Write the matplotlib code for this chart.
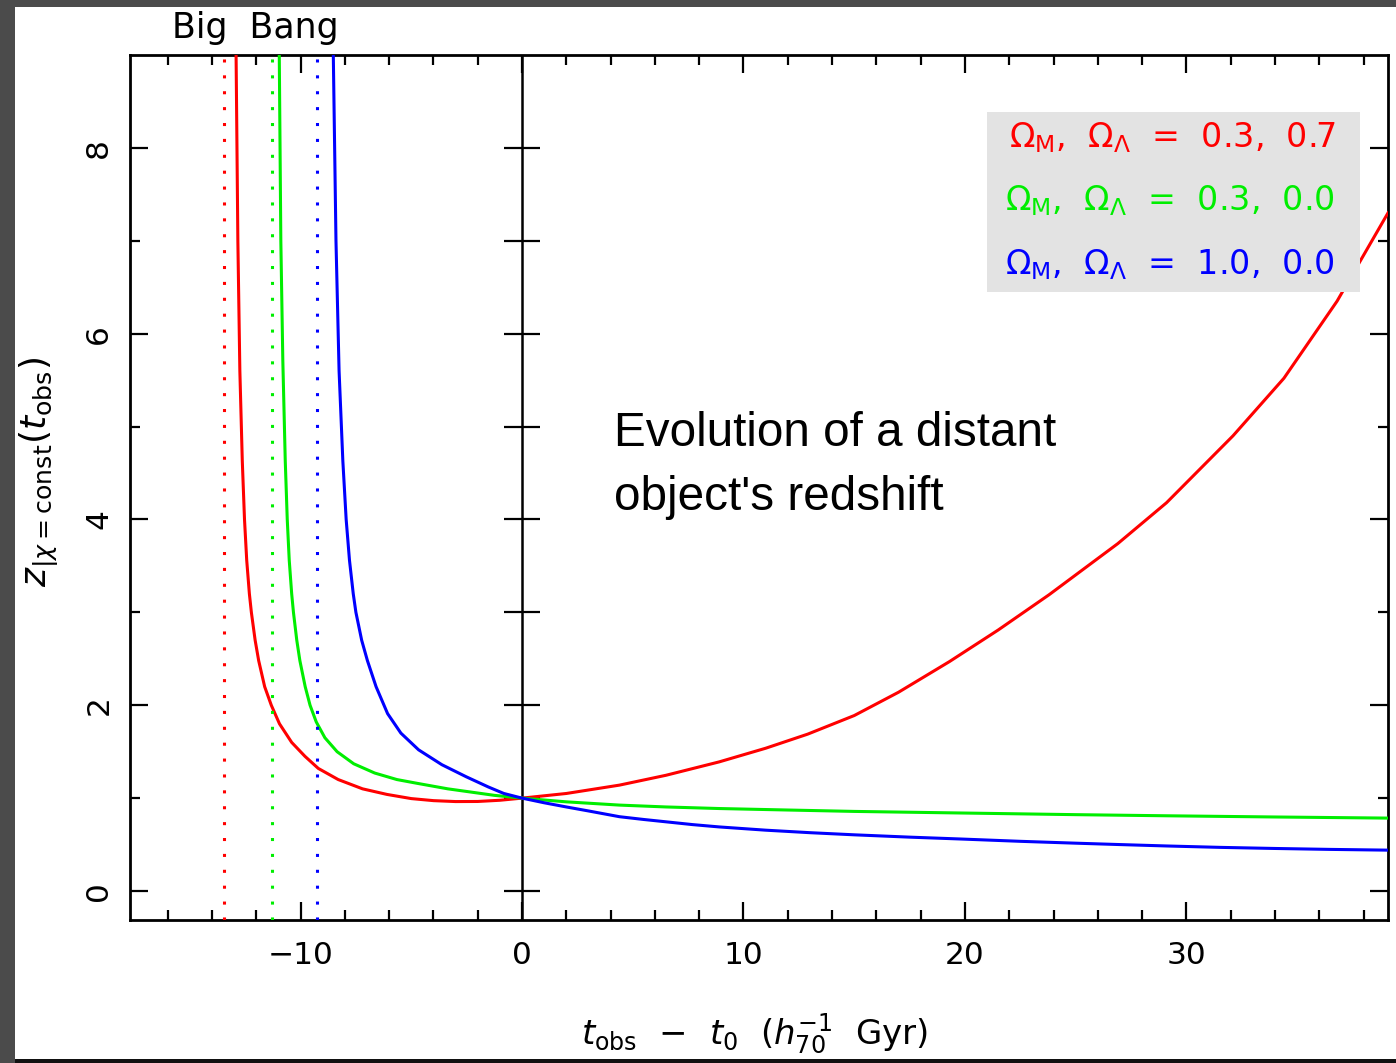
import matplotlib
matplotlib.use("Agg")
import matplotlib.pyplot as plt
from matplotlib.patches import Rectangle
from matplotlib.ticker import MultipleLocator

plt.rcParams["font.family"] = ["DejaVu Sans"]
plt.rcParams["mathtext.fontset"] = "dejavusans"

# Redshift of a fixed comoving source versus observation time (Gyr from today)
t_red = [-12.93, -12.91, -12.83, -12.74, -12.63, -12.53, -12.43, -12.31, -12.22,
         -12.05, -11.89, -11.62, -11.32, -10.95, -10.40, -9.80, -9.20, -8.30,
         -7.20, -6.10, -5.00, -4.00, -3.00, -2.00, -1.00, 0.0, 2.0, 4.4, 6.5,
         8.9, 11.0, 12.9, 15.0, 17.0, 19.3, 21.5, 23.8, 26.9, 29.1, 32.1, 34.4,
         36.8, 39.1]
z_red = [9.60, 8.99, 7.00, 5.60, 4.63, 4.00, 3.56, 3.20, 3.00,
         2.70, 2.48, 2.20, 2.00, 1.80, 1.60, 1.45, 1.32, 1.20,
         1.10, 1.04, 0.995, 0.973, 0.963, 0.964, 0.977, 1.0, 1.05, 1.14, 1.246,
         1.39, 1.537, 1.689, 1.889, 2.14, 2.47, 2.81, 3.19, 3.74, 4.18, 4.90, 5.52,
         6.35, 7.30]

t_green = [-10.98, -10.96, -10.89, -10.80, -10.69, -10.60, -10.51, -10.40, -10.32,
           -10.17, -10.03, -9.79, -9.57, -9.29, -8.90, -8.35, -7.60, -6.65,
           -5.65, -4.75, -3.35, -2.15, -1.25, 0.0, 2.0, 4.4, 6.5, 8.9, 12.0,
           15.0, 19.8, 25.0, 29.1, 34.0, 39.1]
z_green = [9.60, 8.99, 7.00, 5.71, 4.63, 4.00, 3.56, 3.20, 3.00,
           2.70, 2.48, 2.20, 2.00, 1.82, 1.65, 1.50, 1.37, 1.27,
           1.20, 1.16, 1.10, 1.06, 1.03, 1.0, 0.96, 0.925, 0.905, 0.888, 0.872,
           0.857, 0.84, 0.822, 0.81, 0.797, 0.785]

t_blue = [-8.55, -8.52, -8.40, -8.26, -8.09, -7.94, -7.79, -7.62, -7.50,
          -7.24, -6.98, -6.59, -6.07, -5.47, -4.67, -3.62, -2.52, -1.52,
          -0.82, 0.0, 1.0, 2.0, 3.0, 4.4, 5.5, 6.5, 7.7, 8.9, 11.0, 13.0,
          15.0, 17.5, 19.8, 22.5, 25.0, 27.0, 29.1, 31.5, 34.0, 36.5, 39.1]
z_blue = [9.60, 8.99, 7.00, 5.60, 4.63, 4.00, 3.56, 3.20, 3.00,
          2.70, 2.48, 2.20, 1.91, 1.70, 1.52, 1.36, 1.23, 1.12,
          1.05, 1.0, 0.95, 0.905, 0.862, 0.80, 0.77, 0.745, 0.715, 0.69, 0.655, 0.628,
          0.605, 0.58, 0.56, 0.535, 0.515, 0.50, 0.485, 0.47, 0.458, 0.448, 0.44]

# Big Bang epoch of each cosmology
t_bigbang = [-13.45, -11.30, -9.27]

series_colors = ["#ff0000", "#00ee00", "#0000ff"]
legend_labels = [r"$\Omega_{\rm M}$,  $\Omega_\Lambda$  =  0.3,  0.7",
                 r"$\Omega_{\rm M}$,  $\Omega_\Lambda$  =  0.3,  0.0",
                 r"$\Omega_{\rm M}$,  $\Omega_\Lambda$  =  1.0,  0.0"]

x_major = [-10, 0, 10, 20, 30]
x_labels = ["\u221210", "0", "10", "20", "30"]
y_major = [0, 2, 4, 6, 8]
y_minor = [1, 3, 5, 7]
y_labels = ["0", "2", "4", "6", "8"]

W, H = 1396, 1063
fig = plt.figure(figsize=(W / 100, H / 100), dpi=100)
fig.patch.set_facecolor("#4b4b4b")
fig.patches.append(Rectangle((15 / W, 4 / H), 1 - 15 / W, 1052 / H,
                             transform=fig.transFigure, facecolor="white",
                             edgecolor="none", zorder=-10))
fig.patches.append(Rectangle((15 / W, 0), 1 - 15 / W, 4 / H,
                             transform=fig.transFigure, facecolor="#111111",
                             edgecolor="none", zorder=-10))

ax = fig.add_axes([130 / W, 1 - 920 / H, 1258 / W, 865 / H])
ax.set_facecolor("white")
ax.set_xlim(-17.70, 39.10)
ax.set_ylim(-0.312, 9.0)

for t, z, c in zip([t_red, t_green, t_blue], [z_red, z_green, z_blue], series_colors):
    ax.plot(t, z, color=c, lw=2.2, zorder=3, solid_joinstyle="round")

for tb, c in zip(t_bigbang, series_colors):
    ax.axvline(tb, color=c, lw=2.2, ls=(0, (1, 4.2)), zorder=3.5)

# vertical axis through t = 0 with crossing ticks
ax.axvline(0, color="black", lw=1.8, zorder=2)
ax.plot([0] * (len(y_major) + len(y_minor)), y_major + y_minor, ls="none",
        marker="_", ms=26, mew=1.6, color="black", zorder=2)

ax.set_xticks(x_major)
ax.set_xticklabels(x_labels)
ax.xaxis.set_minor_locator(MultipleLocator(2))
ax.set_yticks(y_major)
ax.set_yticks(y_minor, minor=True)
ax.set_yticklabels(y_labels, rotation=90, va="center")

ax.tick_params(which="both", direction="in", top=True, right=True,
               width=1.6, labelsize=22.5, colors="black")
ax.tick_params(which="major", length=13)
ax.tick_params(which="minor", length=7)
ax.tick_params(axis="x", pad=15)
ax.tick_params(axis="y", pad=12)
for sp in ax.spines.values():
    sp.set_linewidth(2.0)

ax.set_xlabel(r"$t_{\rm obs}$  $-$  $t_0$  $(h_{70}^{-1}$  Gyr$)$", fontsize=24.5,
              va="baseline")
ax.xaxis.set_label_coords(0.496, -0.1445)
ax.set_ylabel(r"$z_{|\chi={\rm const}}(t_{\rm obs})$", fontsize=26,
              va="center", ha="center")
ax.yaxis.set_label_coords(-0.0725, 0.518)

# legend panel
ax.add_patch(Rectangle((0.681, 0.726), 0.297, 0.208, transform=ax.transAxes,
                       facecolor="#e3e3e3", edgecolor="none", zorder=4))
for lab, c, yb in zip(legend_labels, series_colors, [0.8936, 0.8208, 0.7468]):
    ax.text(0.958, yb, lab, transform=ax.transAxes, color=c, fontsize=24,
            ha="right", va="baseline", zorder=5)

ax.text(4.15, 5.17, "Evolution of a distant\nobject's redshift",
        family="Liberation Sans", fontsize=34.3, ha="left", va="top",
        linespacing=1.55, color="black", zorder=5)

fig.text(255 / W, 1 - 38 / H, "Big  Bang", fontsize=25, ha="center",
         va="baseline", color="black")

fig.savefig("out.png", dpi=100, facecolor=fig.get_facecolor())
